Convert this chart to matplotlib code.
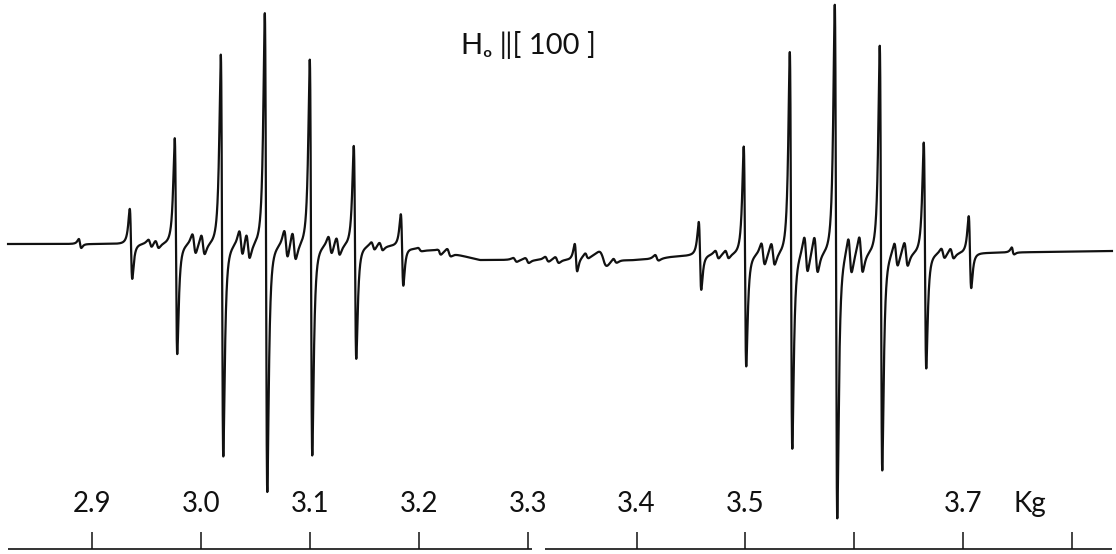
import numpy as np
import matplotlib
matplotlib.use("Agg")
import matplotlib.pyplot as plt

# ---- field range of the chart (kG) ----
FIELD_MIN, FIELD_MAX = 2.8155, 3.8403
TRACE_START, TRACE_END = 2.8229, 3.8366

# ---- main hyperfine lines: position (kG), upper and lower lobe heights ----
main_field = [2.9358, 2.9771, 3.0194, 3.0598, 3.1011, 3.1415, 3.1847,
              3.4583, 3.4996, 3.5419, 3.5832, 3.6245, 3.6649, 3.7062]
main_up = [35, 106, 190, 232, 186, 100, 32,
           33, 108, 202, 249, 208, 111, 37]
main_down = [35, 110, 212, 247, 210, 113, 39,
             35, 112, 195, 265, 217, 115, 35]

# ---- satellite doublets beside the main lines ----
sat_field = [2.9533, 2.9597, 2.9937, 3.0019, 3.0368, 3.0432, 3.0781, 3.0855,
             3.1186, 3.1259, 3.1580, 3.1654,
             3.4739, 3.4831, 3.5162, 3.5253, 3.5556, 3.5648, 3.5960, 3.6061,
             3.6383, 3.6475, 3.6814, 3.6897]
sat_amp = [4, 4, 10, 10, 13, 13, 14, 14, 9, 9, 4, 4,
           4, 4, 11, 11, 18, 18, 18, 18, 12, 12, 5, 5]

# ---- weak features between the groups ----
weak_field = [2.8890, 3.2012, 3.2186, 3.2278, 3.2884, 3.2994, 3.3178, 3.3270,
              3.3444, 3.3545, 3.3692, 3.3803, 3.4188, 3.7457]
weak_up = [5, 2, 1, 4, 2, 2, 3, 3, 15, 4, 6, 3, 4, 5]
weak_down = [4, 1, 4, 3, 2, 3, 2, 3, 13, 2, 8, 2, 2, 2]
weak_width = [0.002, 0.003, 0.003, 0.003, 0.003, 0.003, 0.003, 0.003,
              0.002, 0.003, 0.006, 0.003, 0.003, 0.002]

# ---- baseline drift of the recorder trace ----
base_field = [2.8229, 2.9349, 3.1828, 3.2012, 3.2196, 3.2333, 3.2563, 3.3389,
              3.3573, 3.3940, 3.4170, 3.4308, 3.4583, 3.7062, 3.8366]
base_level = [0, 0, -2, -6, -7, -10, -16, -16, -13, -16, -15, -13, -11, -9, -7]

# ---- field scale ----
scale_ticks = [2.9, 3.0, 3.1, 3.2, 3.3, 3.4, 3.5, 3.6, 3.7, 3.8]
scale_labels = ["2.9", "3.0", "3.1", "3.2", "3.3", "3.4", "3.5", "", "3.7", ""]
unit_label = "Kg"
unit_pos = 3.7613
title = "H\u2092 \u2016[ 100 ]"

MAIN_WIDTH = 0.002
SAT_WIDTH = 0.0028


def derivative_line(field, center, width, up, down):
    """First-derivative Lorentzian with separate lobe heights."""
    u = (field - center) / width
    shape = -2.0 * u / (1.0 + u * u) ** 2 / (3.0 * np.sqrt(3.0) / 8.0)
    return np.where(shape > 0, shape * up, shape * down)


field = np.arange(TRACE_START, TRACE_END, 0.00003)
signal = np.interp(field, base_field, base_level)
for c, a_up, a_dn in zip(main_field, main_up, main_down):
    signal += derivative_line(field, c, MAIN_WIDTH, a_up, a_dn)
for c, a in zip(sat_field, sat_amp):
    signal += derivative_line(field, c, SAT_WIDTH, a, a)
for c, a_up, a_dn, w in zip(weak_field, weak_up, weak_down, weak_width):
    signal += derivative_line(field, c, w, a_up, a_dn)

W, H = 1116, 554
fig = plt.figure(figsize=(W / 100, H / 100), dpi=100)
fig.patch.set_facecolor("white")

ink = "#111111"
font = ["Lato", "DejaVu Sans"]

# spectrum
ax = fig.add_axes([0, 0, 1, 1])
ax.set_xlim(FIELD_MIN, FIELD_MAX)
ax.set_ylim(-310, 244)
ax.axis("off")
ax.plot(field, signal, color=ink, lw=1.6, solid_joinstyle="round")
ax.text(3.3004, 199, title, ha="center", va="center", fontsize=21,
        family=font, fontweight="normal", color=ink)

# field scale along the bottom
sc = fig.add_axes([0, 5 / H, 1, 28 / H])
sc.set_xlim(FIELD_MIN, FIELD_MAX)
sc.set_ylim(0, 1)
sc.patch.set_alpha(0)
for s in sc.spines.values():
    s.set_visible(False)
sc.yaxis.set_visible(False)
sc.set_xticks(scale_ticks)
sc.set_xticklabels(scale_labels, family=font, fontweight="normal", fontsize=20,
                   color=ink)
sc.tick_params(axis="x", direction="in", length=12, width=1.1, color=ink,
               bottom=True, top=False, labelbottom=False, labeltop=True, pad=3)
xt = sc.get_xaxis_transform()
sc.plot([TRACE_START, 3.3040], [0, 0], color=ink, lw=1.2, transform=xt,
        clip_on=False, solid_capstyle="butt")
sc.plot([3.3160, TRACE_END], [0, 0], color=ink, lw=1.2, transform=xt,
        clip_on=False, solid_capstyle="butt")
sc.annotate(unit_label, xy=(unit_pos, 1), xycoords=("data", "axes fraction"),
            xytext=(0, 3), textcoords="offset points", ha="center", va="bottom",
            family=font, fontweight="normal", fontsize=20, color=ink)

fig.savefig("out.png", dpi=100, facecolor="white")
